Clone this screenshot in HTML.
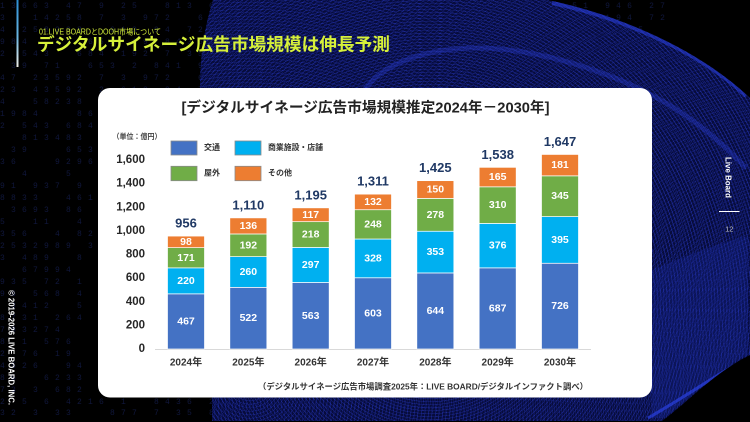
<!DOCTYPE html>
<html><head><meta charset="utf-8"><style>
html,body{margin:0;padding:0;background:#000;width:750px;height:422px;overflow:hidden;position:relative;}
.layer{position:absolute;left:0;top:0;width:750px;height:422px;overflow:hidden;}
svg{display:block;overflow:hidden;}
text{font-family:"Liberation Sans","Noto Sans CJK JP",sans-serif;}
.dg text{font-family:"Liberation Mono",monospace;font-size:8px;letter-spacing:0.7px;fill:#10173c;white-space:pre;}
.mesh{
  clip-path:path('M213,0 L548,0 C620,15 700,50 750,98 L750,355 C715,372 690,400 662,421 L212,421 L212,397 L120,300 L120,150 L200,88 C200,55 205,25 213,0 Z');
  background:
    repeating-radial-gradient(circle at 430px 300px, rgba(46,64,214,0) 0px, rgba(46,64,214,0) 2.4px, rgba(46,64,214,0.42) 2.4px, rgba(46,64,214,0.42) 3px),
    repeating-radial-gradient(circle at 250px 380px, rgba(40,58,200,0) 0px, rgba(40,58,200,0) 2.9px, rgba(40,58,200,0.38) 2.9px, rgba(40,58,200,0.38) 3.5px),
    repeating-radial-gradient(circle at 820px 420px, rgba(30,46,176,0) 0px, rgba(30,46,176,0) 2.9px, rgba(30,46,176,0.4) 2.9px, rgba(30,46,176,0.4) 3.5px),
    #070c3c;
}
</style></head><body>
<div class="layer">
<svg width="750" height="422" viewBox="0 0 750 422" xmlns="http://www.w3.org/2000/svg">
<g class="dg">
<text x="0" y="8">1 3 6 6 3   4 7   9   2 5     8 1 3   6 4 7   2   9 5 3 1   4   7 6 2   8   3 5 9   1 4   6 2 7   3 8   5 1   9 4 6   2 7</text>
<text x="0" y="20">3     1 4 2 5 8   7   3   9 7 2     6 8 1   4   3 5   2 9   7 4 1   6   8 2 5   3   9 1 4   7 6   2 8 3   5   1 9 4   7 2</text>
<text x="0" y="32">4   2 5 8 2 3 8     6 1 3   9 4   7 2   5 8   3 6 9   1   4 7 2   5 3 8   6 9   1 4 7   2 5   8 3 6   9   1 4 7   2 5</text>
<text x="0" y="44">9 8 4     3 7   6 5 2   1 9   8 4 3 6   2   5 7   1 8 4   9 3   6   2 5 8   4 1 7   3 9   6 2   5 8 1   4   7 3 9   2</text>
<text x="0" y="56">2   5 4 3     6 8 4   1 9 2   7   3 5   8 6   4 2 1   9 7   5   3 8 6   2 4   1 7 9   5   3 6 8   2 4 1   7 9   5</text>
<text x="0" y="68">  3 9   7 1     6 5 3   2   8 4 1   9 7   3 6   5 2 8   4   1 9 7   3 6 5   2   8 4 1   9   7 3 6   5 2   8 4</text>
<text x="0" y="80">4 7   2 3 5 9 2   7   3   9 7 2     6 8 1   4   3 5   2 9   7 4 1   6   8 2 5   3   9 1 4   7 6   2 8 3   5   1 9</text>
<text x="0" y="92">2 3   4 3 5 9 2   2   6 1 3   9 4   7 2   5 8   3 6 9   1   4 7 2   5 3 8   6 9   1 4 7   2 5   8 3 6   9   1 4</text>
<text x="0" y="104">4     5 8 2 3 8   3   8 4 3 6   2   5 7   1 8 4   9 3   6   2 5 8   4 1 7   3 9   6 2   5 8 1   4   7 3 9   2 6</text>
<text x="0" y="116">1 9 8 4       8 6   1 9 2   7   3 5   8 6   4 2 1   9 7   5   3 8 6   2 4   1 7 9   5   3 6 8   2 4 1   7 9   5</text>
<text x="0" y="128">2   5 4 3   6 8 4   2   8 4 1   9 7   3 6   5 2 8   4   1 9 7   3 6 5   2   8 4 1   9   7 3 6   5 2   8 4</text>
<text x="0" y="140">    8 1 3 4 8 3   7   3   9 7 2     6 8 1   4   3 5   2 9   7 4 1   6   8 2 5   3   9 1 4   7 6   2 8 3   5</text>
<text x="0" y="152">  3 9       6 5 3   9 4   7 2   5 8   3 6 9   1   4 7 2   5 3 8   6 9   1 4 7   2 5   8 3 6   9   1 4 7   2</text>
<text x="0" y="164">3 6       9 2 9 6   1 9   8 4 3 6   2   5 7   1 8 4   9 3   6   2 5 8   4 1 7   3 9   6 2   5 8 1   4   7 3</text>
<text x="0" y="176">    4       5     1 9 2   7   3 5   8 6   4 2 1   9 7   5   3 8 6   2 4   1 7 9   5   3 6 8   2 4 1   7 9   5</text>
<text x="0" y="188">9 1   9 3 7   9     2   8 4 1   9 7   3 6   5 2 8   4   1 9 7   3 6 5   2   8 4 1   9   7 3 6   5 2   8 4</text>
<text x="0" y="200">8 8 3 3     4 6 1   3   9 7 2     6 8 1   4   3 5   2 9   7 4 1   6   8 2 5   3   9 1 4   7 6   2 8 3   5</text>
<text x="0" y="212">  3 6 9 3   8 6     9 4   7 2   5 8   3 6 9   1   4 7 2   5 3 8   6 9   1 4 7   2 5   8 3 6   9   1 4 7   2</text>
<text x="0" y="224">5     1 1     4     1 9   8 4 3 6   2   5 7   1 8 4   9 3   6   2 5 8   4 1 7   3 9   6 2   5 8 1   4   7 3</text>
<text x="0" y="236">3 5 6     4   8 2   1 9 2   7   3 5   8 6   4 2 1   9 7   5   3 8 6   2 4   1 7 9   5   3 6 8   2 4 1   7 9</text>
<text x="0" y="248">2 5 3 2 9 8 9   3   2   8 4 1   9 7   3 6   5 2 8   4   1 9 7   3 6 5   2   8 4 1   9   7 3 6   5 2   8 4</text>
<text x="0" y="260">3   4 8 9     8     3   9 7 2     6 8 1   4   3 5   2 9   7 4 1   6   8 2 5   3   9 1 4   7 6   2 8 3   5</text>
<text x="0" y="272">    6 7 9 9 4       9 4   7 2   5 8   3 6 9   1   4 7 2   5 3 8   6 9   1 4 7   2 5   8 3 6   9   1 4 7   2</text>
<text x="0" y="284">9 3 5   7 2   1     1 9   8 4 3 6   2   5 7   1 8 4   9 3   6   2 5 8   4 1 7   3 9   6 2   5 8 1   4   7 3</text>
<text x="0" y="296">9 6   5 6 8   4     1 9 2   7   3 5   8 6   4 2 1   9 7   5   3 8 6   2 4   1 7 9   5   3 6 8   2 4 1   7 9</text>
<text x="0" y="308">  3 4 1 2     5     2   8 4 1   9 7   3 6   5 2 8   4   1 9 7   3 6 5   2   8 4 1   9   7 3 6   5 2   8 4</text>
<text x="0" y="320">8 7 3 1   2 6 4     3   9 7 2     6 8 1   4   3 5   2 9   7 4 1   6   8 2 5   3   9 1 4   7 6   2 8 3   5</text>
<text x="0" y="332">7 8 3 2 7 4         9 4   7 2   5 8   3 6 9   1   4 7 2   5 3 8   6 9   1 4 7   2 5   8 3 6   9   1 4 7   2</text>
<text x="0" y="344">8   1   5 7 6       1 9   8 4 3 6   2   5 7   1 8 4   9 3   6   2 5 8   4 1 7   3 9   6 2   5 8 1   4   7 3</text>
<text x="0" y="356">2   7 6   1 9       1 9 2   7   3 5   8 6   4 2 1   9 7   5   3 8 6   2 4   1 7 9   5   3 6 8   2 4 1   7 9</text>
<text x="0" y="368">4 5 2 6     9 4     2   8 4 1   9 7   3 6   5 2 8   4   1 9 7   3 6 5   2   8 4 1   9   7 3 6   5 2   8 4</text>
<text x="0" y="380">8 5     6 2 3 3     3   9 7 2     6 8 1   4   3 5   2 9   7 4 1   6   8 2 5   3   9 1 4   7 6   2 8 3   5 7</text>
<text x="0" y="392">7 3   3   6 8 2     9 4   7 2   5 8   3 6 9   1   4 7 2   5 3 8   6 9   1 4 7   2 5   8 3 6   9   1 4 7 4 4</text>
<text x="0" y="404">2   5   6   4 2 1 6   1     8 4 3 6   2   5 7   1 8 4   9 3   6   2 5 8   4 1 7   3 9   6 2   5 8 1   6 7 7</text>
<text x="0" y="415">3 2   3   3 3       8 7 7   7   3 5   8 6   4 2 1   9 7   5   3 8 6   2 4   1 7 9   5   3 6 8   3 2   3 5 6</text>
</g>
</svg>
</div>
<div class="layer mesh"></div>
<div class="layer">
<svg width="750" height="422" viewBox="0 0 750 422" xmlns="http://www.w3.org/2000/svg">
<defs>
<clipPath id="meshc"><path d="M213,0 L548,0 C620,15 700,50 750,98 L750,355 C715,372 690,400 662,421 L212,421 L212,397 L120,300 L120,150 L200,88 C200,55 205,25 213,0 Z"/></clipPath>
<linearGradient id="vbar" x1="0" y1="0" x2="0" y2="1"><stop offset="0" stop-color="#2c8fd6"/><stop offset="0.55" stop-color="#6ab6e2"/><stop offset="1" stop-color="#f0eee8"/></linearGradient>
</defs>
<g clip-path="url(#meshc)">
<path d="M652,270 C700,250 730,240 748,236 L748,355 C715,372 690,398 664,418 L652,418 Z" fill="#1a2aa0" opacity="0.3"/>
<path d="M362,93 C380,65 420,50 470,48 C520,47 570,60 620,80 C680,105 720,140 746,168" fill="none" stroke="#2a3fd8" stroke-width="5" opacity="0.35"/>
<path d="M552,3 C620,17 700,52 746,96" fill="none" stroke="#2a40e0" stroke-width="4" opacity="0.55"/>
<path d="M648,418 C690,394 720,372 748,358" fill="none" stroke="#2a40e0" stroke-width="3" opacity="0.7"/>
</g>

<!-- header -->
<rect x="16.5" y="0" width="2" height="67" fill="url(#vbar)"/>
<text x="39" y="32" font-size="8" fill="#d6f03a" dominant-baseline="central" textLength="122" lengthAdjust="spacingAndGlyphs">01.LIVE BOARDとDOOH市場について</text>
<text x="37" y="44.5" font-size="17.5" font-weight="700" fill="#d6f03a" dominant-baseline="central" textLength="353" lengthAdjust="spacingAndGlyphs">デジタルサイネージ広告市場規模は伸長予測</text>

<!-- side texts -->
<text transform="translate(11.5,290) rotate(90)" font-size="8.5" font-weight="700" fill="#ffffff" dominant-baseline="central" textLength="115" lengthAdjust="spacingAndGlyphs">© 2019-2026 LIVE BOARD, INC.</text>
<text transform="translate(728.5,157) rotate(90)" font-size="8.5" font-weight="700" fill="#ffffff" dominant-baseline="central" textLength="41" lengthAdjust="spacingAndGlyphs">Live Board</text>
<line x1="719" y1="211.5" x2="739.5" y2="211.5" stroke="#ffffff" stroke-width="1"/>
<text x="729.3" y="229" font-size="7.5" fill="#bbbbbb" text-anchor="middle" dominant-baseline="central">12</text>

<!-- card -->
<rect x="98" y="88" width="554" height="309.5" rx="12" ry="12" fill="#ffffff"/>

<text x="181.5" y="108.5" font-size="14.5" font-weight="700" fill="#222" dominant-baseline="central" textLength="368" lengthAdjust="spacingAndGlyphs">[デジタルサイネージ広告市場規模推定2024年－2030年]</text>

<text x="112.5" y="136.3" font-size="7.5" font-weight="700" fill="#444" dominant-baseline="central" textLength="49" lengthAdjust="spacingAndGlyphs">（単位：億円）</text>

<!-- legend -->
<rect x="171" y="141" width="26" height="14" fill="#4472C4" stroke="#8a8a8a" stroke-width="0.8"/>
<text x="204" y="147.5" font-size="8" font-weight="700" fill="#333" dominant-baseline="central">交通</text>
<rect x="235" y="141" width="26" height="14" fill="#00B0F0" stroke="#8a8a8a" stroke-width="0.8"/>
<text x="268" y="147.5" font-size="8" font-weight="700" fill="#333" dominant-baseline="central" textLength="55" lengthAdjust="spacingAndGlyphs">商業施設・店舗</text>
<rect x="171" y="166.3" width="26" height="14.4" fill="#70AD47" stroke="#8a8a8a" stroke-width="0.8"/>
<text x="204" y="173" font-size="8" font-weight="700" fill="#333" dominant-baseline="central">屋外</text>
<rect x="235" y="166.3" width="26" height="14.4" fill="#ED7D31" stroke="#8a8a8a" stroke-width="0.8"/>
<text x="268" y="173" font-size="8" font-weight="700" fill="#333" dominant-baseline="central">その他</text>

<!-- y axis labels -->
<g font-size="11.5" font-weight="700" fill="#262626" text-anchor="end" dominant-baseline="central">
<text x="145" y="349">0</text>
<text x="145" y="325.4">200</text>
<text x="145" y="301.75">400</text>
<text x="145" y="278.1">600</text>
<text x="145" y="254.5">800</text>
<text x="145" y="230.9">1,000</text>
<text x="145" y="207.25">1,200</text>
<text x="145" y="183.6">1,400</text>
<text x="145" y="160">1,600</text>
</g>

<!-- baseline -->
<line x1="155" y1="349.5" x2="591" y2="349.5" stroke="#d9d9d9" stroke-width="1"/>

<!-- bars -->
<g stroke="#ffffff" stroke-width="0.7">
<rect x="167.5" y="293.84" width="37" height="55.16" fill="#4472C4"/>
<rect x="167.5" y="267.85" width="37" height="25.99" fill="#00B0F0"/>
<rect x="167.5" y="247.65" width="37" height="20.2" fill="#70AD47"/>
<rect x="167.5" y="236.07" width="37" height="11.58" fill="#ED7D31"/>

<rect x="229.83" y="287.34" width="37" height="61.66" fill="#4472C4"/>
<rect x="229.83" y="256.63" width="37" height="30.71" fill="#00B0F0"/>
<rect x="229.83" y="233.95" width="37" height="22.68" fill="#70AD47"/>
<rect x="229.83" y="217.88" width="37" height="16.07" fill="#ED7D31"/>

<rect x="292.17" y="282.5" width="37" height="66.5" fill="#4472C4"/>
<rect x="292.17" y="247.42" width="37" height="35.08" fill="#00B0F0"/>
<rect x="292.17" y="221.67" width="37" height="25.75" fill="#70AD47"/>
<rect x="292.17" y="207.85" width="37" height="13.82" fill="#ED7D31"/>

<rect x="354.5" y="277.77" width="37" height="71.23" fill="#4472C4"/>
<rect x="354.5" y="239.02" width="37" height="38.75" fill="#00B0F0"/>
<rect x="354.5" y="209.72" width="37" height="29.3" fill="#70AD47"/>
<rect x="354.5" y="194.13" width="37" height="15.59" fill="#ED7D31"/>

<rect x="416.83" y="272.93" width="37" height="76.07" fill="#4472C4"/>
<rect x="416.83" y="231.23" width="37" height="41.7" fill="#00B0F0"/>
<rect x="416.83" y="198.39" width="37" height="32.84" fill="#70AD47"/>
<rect x="416.83" y="180.67" width="37" height="17.72" fill="#ED7D31"/>

<rect x="479.17" y="267.85" width="37" height="81.15" fill="#4472C4"/>
<rect x="479.17" y="223.44" width="37" height="44.41" fill="#00B0F0"/>
<rect x="479.17" y="186.82" width="37" height="36.62" fill="#70AD47"/>
<rect x="479.17" y="167.33" width="37" height="19.49" fill="#ED7D31"/>

<rect x="541.5" y="263.24" width="37" height="85.76" fill="#4472C4"/>
<rect x="541.5" y="216.58" width="37" height="46.66" fill="#00B0F0"/>
<rect x="541.5" y="175.83" width="37" height="40.75" fill="#70AD47"/>
<rect x="541.5" y="154.45" width="37" height="21.38" fill="#ED7D31"/>
</g>

<!-- segment labels -->
<g font-size="10.5" font-weight="700" fill="#ffffff" text-anchor="middle" dominant-baseline="central">
<text x="186" y="321.4">467</text><text x="186" y="280.8">220</text><text x="186" y="257.75">171</text><text x="186" y="241.86">98</text>
<text x="248.33" y="318.17">522</text><text x="248.33" y="271.99">260</text><text x="248.33" y="245.29">192</text><text x="248.33" y="225.92">136</text>
<text x="310.67" y="315.75">563</text><text x="310.67" y="264.96">297</text><text x="310.67" y="234.55">218</text><text x="310.67" y="214.76">117</text>
<text x="373" y="313.39">603</text><text x="373" y="258.4">328</text><text x="373" y="224.37">248</text><text x="373" y="201.93">132</text>
<text x="435.33" y="310.97">644</text><text x="435.33" y="252.08">353</text><text x="435.33" y="214.81">278</text><text x="435.33" y="189.53">150</text>
<text x="497.67" y="308.43">687</text><text x="497.67" y="245.65">376</text><text x="497.67" y="205.13">310</text><text x="497.67" y="177.08">165</text>
<text x="560" y="306.12">726</text><text x="560" y="239.91">395</text><text x="560" y="196.21">345</text><text x="560" y="165.14">181</text>
</g>

<!-- totals -->
<g font-size="13" font-weight="700" fill="#1f3864" text-anchor="middle" dominant-baseline="central">
<text x="186" y="223">956</text>
<text x="248.33" y="204.9">1,110</text>
<text x="310.67" y="194.85">1,195</text>
<text x="373" y="181.1">1,311</text>
<text x="435.33" y="167.7">1,425</text>
<text x="497.67" y="154.3">1,538</text>
<text x="560" y="141.45">1,647</text>
</g>

<!-- year labels -->
<g font-size="10" font-weight="700" fill="#333" text-anchor="middle" dominant-baseline="central">
<text x="186" y="363">2024年</text>
<text x="248.33" y="363">2025年</text>
<text x="310.67" y="363">2026年</text>
<text x="373" y="363">2027年</text>
<text x="435.33" y="363">2028年</text>
<text x="497.67" y="363">2029年</text>
<text x="560" y="363">2030年</text>
</g>

<text x="258" y="386.5" font-size="8.3" font-weight="700" fill="#333" dominant-baseline="central" textLength="330" lengthAdjust="spacingAndGlyphs">（デジタルサイネージ広告市場調査2025年：LIVE BOARD/デジタルインファクト調べ）</text>
</svg>
</div>
</body></html>
